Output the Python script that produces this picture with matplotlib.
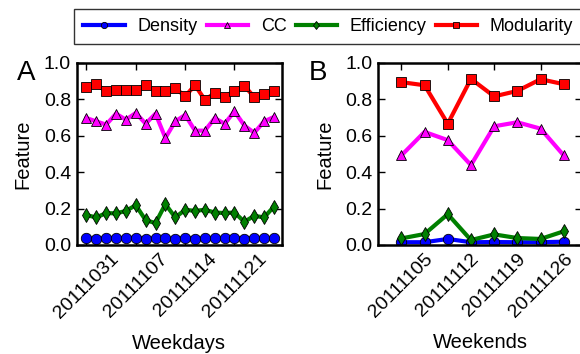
import matplotlib
matplotlib.use('Agg')
import matplotlib.pyplot as plt
import numpy as np

plt.rcParams['font.family'] = ['Liberation Sans', 'DejaVu Sans']

# weekday series (20111031 .. 20111125)
wd_labels = ['20111031', '20111107', '20111114', '20111121']
wd_density = [0.036, 0.033, 0.038, 0.038, 0.037, 0.040, 0.033, 0.036, 0.036, 0.033,
              0.040, 0.033, 0.038, 0.036, 0.036, 0.040, 0.033, 0.040, 0.036, 0.039]
wd_cc = [0.696, 0.678, 0.660, 0.720, 0.687, 0.724, 0.665, 0.720, 0.587, 0.678,
         0.713, 0.627, 0.627, 0.696, 0.665, 0.733, 0.655, 0.615, 0.678, 0.702]
wd_eff = [0.164, 0.151, 0.175, 0.173, 0.187, 0.218, 0.136, 0.120, 0.224, 0.151,
          0.193, 0.187, 0.193, 0.178, 0.175, 0.178, 0.127, 0.160, 0.151, 0.211]
wd_mod = [0.869, 0.882, 0.842, 0.851, 0.851, 0.851, 0.876, 0.847, 0.847, 0.860,
          0.816, 0.876, 0.796, 0.833, 0.811, 0.847, 0.873, 0.811, 0.827, 0.847]

# weekend series (20111105 .. 20111127)
we_labels = ['20111105', '20111112', '20111119', '20111126']
we_density = [0.015, 0.015, 0.033, 0.015, 0.016, 0.015, 0.015, 0.018]
we_cc = [0.491, 0.620, 0.575, 0.438, 0.651, 0.673, 0.638, 0.491]
we_eff = [0.036, 0.060, 0.169, 0.027, 0.058, 0.038, 0.033, 0.075]
we_mod = [0.893, 0.876, 0.665, 0.911, 0.815, 0.845, 0.909, 0.882]

names = ['Density', 'CC', 'Efficiency', 'Modularity']
styles = [('b', 'o'), ('#ff00ff', '^'), ('g', 'd'), ('r', 's')]

fig = plt.figure(figsize=(5.8, 3.54), dpi=100)
axA = fig.add_axes([0.132, 0.308, 0.354, 0.515])
axB = fig.add_axes([0.652, 0.308, 0.352, 0.515])


def panel(ax, series, labels, step, xlabel, letter, lx):
    n = len(series[0])
    x = np.arange(n)
    for ys, (c, m), name in zip(series, styles, names):
        ax.plot(x, ys, '-', color=c, marker=m, lw=3, ms=7.5,
                mec='k', mew=0.6, label=name)
    ax.set_xlim(-1, n - 0.2)
    ax.set_ylim(0, 1.0)
    ax.set_yticks(np.arange(0, 1.01, 0.2))
    ax.set_xticks(x[::step])
    ax.set_xticklabels(labels, rotation=45, ha='center')
    ax.tick_params(direction='in', length=5, width=1, top=True, right=True,
                   labelsize=14, pad=4)
    ax.set_xlabel(xlabel, fontsize=14.5, labelpad=9)
    ax.set_ylabel('Feature', fontsize=14.5, labelpad=8)
    for s in ax.spines.values():
        s.set_linewidth(1.8)
    fig.text(lx, 0.795, letter, fontsize=20, ha='center', va='center')


panel(axA, [wd_density, wd_cc, wd_eff, wd_mod], wd_labels, 5, 'Weekdays', 'A', 0.045)
panel(axB, [we_density, we_cc, we_eff, we_mod], we_labels, 2, 'Weekends', 'B', 0.548)

h, l = axA.get_legend_handles_labels()
leg = fig.legend(h, l, loc='upper center', bbox_to_anchor=(0.566, 0.975), ncol=4,
                 fontsize=13, fancybox=False, edgecolor='k', handlelength=2.3,
                 columnspacing=0.5, handletextpad=0.7, markerscale=0.6,
                 borderpad=0.5, borderaxespad=0.0)
leg.get_frame().set_linewidth(1.0)

fig.savefig('out.png', dpi=100)
